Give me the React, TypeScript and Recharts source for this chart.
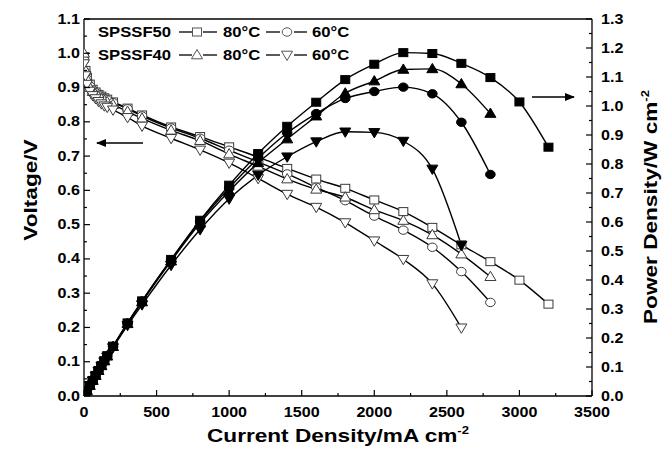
import React from 'react';
import { ComposedChart, Line, XAxis, YAxis, ReferenceLine } from 'recharts';

// ---- Data ----
const currentSPSSF50_80 = [0, 10, 20, 40, 60, 80, 100, 120, 140, 160, 200, 300, 400, 600, 800, 1000, 1200, 1400, 1600, 1800, 2000, 2200, 2400, 2600, 2800, 3000, 3200];
const voltageSPSSF50_80 = [0.99, 0.95, 0.93, 0.91, 0.895, 0.887, 0.88, 0.875, 0.87, 0.866, 0.858, 0.84, 0.82, 0.785, 0.757, 0.727, 0.697, 0.664, 0.633, 0.606, 0.572, 0.538, 0.492, 0.441, 0.392, 0.338, 0.268];
const powerSPSSF50_80 = [0, 0.0095, 0.0186, 0.0364, 0.0537, 0.071, 0.088, 0.105, 0.122, 0.139, 0.172, 0.252, 0.328, 0.471, 0.606, 0.727, 0.836, 0.93, 1.013, 1.091, 1.144, 1.184, 1.181, 1.147, 1.098, 1.014, 0.858];

const currentSPSSF50_60 = [0, 10, 20, 40, 60, 80, 100, 120, 140, 160, 200, 300, 400, 600, 800, 1000, 1200, 1400, 1600, 1800, 2000, 2200, 2400, 2600, 2800];
const voltageSPSSF50_60 = [0.98, 0.945, 0.925, 0.905, 0.893, 0.885, 0.878, 0.872, 0.868, 0.864, 0.856, 0.838, 0.817, 0.782, 0.752, 0.717, 0.683, 0.648, 0.609, 0.57, 0.525, 0.484, 0.434, 0.363, 0.273];
const powerSPSSF50_60 = [0, 0.0095, 0.0185, 0.0362, 0.0536, 0.0708, 0.0878, 0.1046, 0.1215, 0.1382, 0.171, 0.251, 0.327, 0.469, 0.602, 0.717, 0.82, 0.907, 0.974, 1.026, 1.05, 1.065, 1.042, 0.944, 0.764];

const currentSPSSF40_80 = [0, 10, 20, 40, 60, 80, 100, 120, 140, 160, 200, 300, 400, 600, 800, 1000, 1200, 1400, 1600, 1800, 2000, 2200, 2400, 2600, 2800];
const voltageSPSSF40_80 = [1.0, 0.95, 0.925, 0.9, 0.888, 0.88, 0.873, 0.867, 0.862, 0.858, 0.85, 0.83, 0.81, 0.775, 0.745, 0.706, 0.67, 0.633, 0.603, 0.58, 0.543, 0.512, 0.47, 0.414, 0.348];
const powerSPSSF40_80 = [0, 0.0095, 0.0185, 0.036, 0.0533, 0.0704, 0.0873, 0.104, 0.1207, 0.1373, 0.17, 0.249, 0.324, 0.465, 0.596, 0.706, 0.804, 0.886, 0.965, 1.044, 1.086, 1.126, 1.128, 1.076, 0.974];

const currentSPSSF40_60 = [0, 10, 20, 40, 60, 80, 100, 120, 140, 160, 200, 300, 400, 600, 800, 1000, 1200, 1400, 1600, 1800, 2000, 2200, 2400, 2600];
const voltageSPSSF40_60 = [0.97, 0.935, 0.91, 0.89, 0.877, 0.868, 0.86, 0.853, 0.847, 0.843, 0.835, 0.813, 0.788, 0.752, 0.718, 0.68, 0.635, 0.589, 0.551, 0.506, 0.453, 0.399, 0.328, 0.199];
const powerSPSSF40_60 = [0, 0.0094, 0.018, 0.0356, 0.0526, 0.0694, 0.086, 0.102, 0.1186, 0.135, 0.167, 0.244, 0.315, 0.451, 0.574, 0.68, 0.762, 0.825, 0.877, 0.911, 0.909, 0.879, 0.783, 0.52];

const xTicks = [0, 250, 500, 750, 1000, 1250, 1500, 1750, 2000, 2250, 2500, 2750, 3000, 3250, 3500];
const leftTicks = [0, 0.05, 0.1, 0.15, 0.2, 0.25, 0.3, 0.35, 0.4, 0.45, 0.5, 0.55, 0.6, 0.65, 0.7, 0.75, 0.8, 0.85, 0.9, 0.95, 1.0, 1.05, 1.1];
const rightTicks = [0, 0.05, 0.1, 0.15, 0.2, 0.25, 0.3, 0.35, 0.4, 0.45, 0.5, 0.55, 0.6, 0.65, 0.7, 0.75, 0.8, 0.85, 0.9, 0.95, 1.0, 1.05, 1.1, 1.15, 1.2, 1.25, 1.3];

const legendRows = ['SPSSF50', 'SPSSF40'];
const legendTemps = ['80°C', '60°C'];

const zip = (xs: number[], ys: number[]) => xs.map((x, i) => ({ x, y: ys[i] }));

const FONT = '"Liberation Sans", Arial, sans-serif';
const MARK_STROKE = '#3a3a3a';

type Kind = 'square' | 'circle' | 'up' | 'down';

function marker(kind: Kind, cx: number, cy: number, filled: boolean, key?: any, color?: string) {
  const fill = filled ? '#000' : '#fff';
  const stroke = color || (filled ? '#000' : MARK_STROKE);
  const sw = 1;
  if (kind === 'square') {
    return <rect key={key} x={cx - 4.5} y={cy - 4} width={9} height={8} fill={fill} stroke={stroke} strokeWidth={sw} />;
  }
  if (kind === 'circle') {
    return <ellipse key={key} cx={cx} cy={cy} rx={4.8} ry={4.2} fill={fill} stroke={stroke} strokeWidth={sw} />;
  }
  if (kind === 'up') {
    return <polygon key={key} points={`${cx},${cy - 5.5} ${cx - 5.5},${cy + 3.8} ${cx + 5.5},${cy + 3.8}`} fill={fill} stroke={stroke} strokeWidth={sw} />;
  }
  return <polygon key={key} points={`${cx},${cy + 5.5} ${cx - 5.5},${cy - 3.8} ${cx + 5.5},${cy - 3.8}`} fill={fill} stroke={stroke} strokeWidth={sw} />;
}

const dotFn = (kind: Kind, filled: boolean) => (props: any) => {
  const { cx, cy, index } = props;
  if (cx == null || cy == null) return <g key={index} />;
  return marker(kind, cx, cy, filled, index);
};

const Txt = ({ x, y, anchor, size, children, rotate, sx = 1.19 }: any) => (
  <text
    transform={`translate(${x},${y})${rotate ? ` rotate(${rotate})` : ''} scale(${sx},1)`}
    textAnchor={anchor || 'start'}
    fontFamily={FONT}
    fontWeight="bold"
    fontSize={size}
    fill="#000"
  >
    {children}
  </text>
);

const TICK_SIZE = 14;
const TICK_SX = 1.15;

const XTick = (props: any) => {
  const { x, y, payload } = props;
  const v = payload.value;
  const major = v % 500 === 0;
  return (
    <g>
      <line x1={x} x2={x} y1={y} y2={y - (major ? 6 : 3)} stroke="#000" strokeWidth={1.2} />
      {major && <Txt x={x} y={y + 21} anchor="middle" size={TICK_SIZE} sx={TICK_SX}>{v}</Txt>}
    </g>
  );
};

const LeftTick = (props: any) => {
  const { x, y, payload } = props;
  const v = payload.value;
  const major = Math.round(v * 100) % 10 === 0;
  return (
    <g>
      <line x1={x} x2={x + (major ? 6 : 3)} y1={y} y2={y} stroke="#000" strokeWidth={1.2} />
      {major && <Txt x={x - 4} y={y + 4.5} anchor="end" size={TICK_SIZE} sx={TICK_SX}>{v.toFixed(1)}</Txt>}
    </g>
  );
};

const RightTick = (props: any) => {
  const { x, y, payload } = props;
  const v = payload.value;
  const major = Math.round(v * 100) % 10 === 0;
  return (
    <g>
      <line x1={x} x2={x - (major ? 6 : 3)} y1={y} y2={y} stroke="#000" strokeWidth={1.2} />
      {major && <Txt x={x + 9} y={y + 4.5} anchor="start" size={TICK_SIZE} sx={TICK_SX}>{v.toFixed(1)}</Txt>}
    </g>
  );
};

const series = [
  { name: 'SPSSF50 80', kind: 'square' as Kind, xs: currentSPSSF50_80, v: voltageSPSSF50_80, p: powerSPSSF50_80 },
  { name: 'SPSSF50 60', kind: 'circle' as Kind, xs: currentSPSSF50_60, v: voltageSPSSF50_60, p: powerSPSSF50_60 },
  { name: 'SPSSF40 80', kind: 'up' as Kind, xs: currentSPSSF40_80, v: voltageSPSSF40_80, p: powerSPSSF40_80 },
  { name: 'SPSSF40 60', kind: 'down' as Kind, xs: currentSPSSF40_60, v: voltageSPSSF40_60, p: powerSPSSF40_60 },
];

const legendKinds: Kind[][] = [['square', 'circle'], ['up', 'down']];

export default function App() {
  return (
    <div style={{ position: 'absolute', left: 0, top: 0, width: 670, height: 454, background: '#fff' }}>
      <ComposedChart width={670} height={454} margin={{ top: 19, right: 0, bottom: 0, left: 0 }}>
        <XAxis
          type="number"
          dataKey="x"
          domain={[0, 3500]}
          ticks={xTicks}
          interval={0}
          allowDataOverflow
          height={58}
          tickSize={0}
          tickMargin={0}
          tickLine={false}
          axisLine={{ stroke: '#000', strokeWidth: 1.3 }}
          tick={<XTick />}
        />
        <YAxis
          yAxisId="left"
          type="number"
          domain={[0, 1.1]}
          ticks={leftTicks}
          interval={0}
          allowDataOverflow
          width={84}
          tickSize={0}
          tickMargin={0}
          tickLine={false}
          axisLine={{ stroke: '#000', strokeWidth: 1.3 }}
          tick={<LeftTick />}
        />
        <YAxis
          yAxisId="right"
          orientation="right"
          type="number"
          domain={[0, 1.3]}
          ticks={rightTicks}
          interval={0}
          allowDataOverflow
          width={78}
          tickSize={0}
          tickMargin={0}
          tickLine={false}
          axisLine={{ stroke: '#000', strokeWidth: 1.3 }}
          tick={<RightTick />}
        />
        <ReferenceLine yAxisId="left" y={1.1} stroke="#000" strokeWidth={1.3} />
        {series.map((s) => (
          <Line
            key={s.name + '-V'}
            yAxisId="left"
            data={zip(s.xs, s.v)}
            dataKey="y"
            type="monotone"
            stroke="#000"
            strokeWidth={1.4}
            dot={dotFn(s.kind, false)}
            activeDot={false}
            isAnimationActive={false}
          />
        ))}
        {series.map((s) => (
          <Line
            key={s.name + '-P'}
            yAxisId="right"
            data={zip(s.xs, s.p)}
            dataKey="y"
            type="monotone"
            stroke="#000"
            strokeWidth={1.4}
            dot={dotFn(s.kind, true)}
            activeDot={false}
            isAnimationActive={false}
          />
        ))}
      </ComposedChart>
      <svg width={670} height={454} style={{ position: 'absolute', left: 0, top: 0, pointerEvents: 'none' }}>
        <defs>
          <marker id="ah" markerWidth="10" markerHeight="8" refX="9" refY="4" orient="auto" markerUnits="userSpaceOnUse">
            <path d="M0,0 L10,4 L0,8 Z" fill="#000" />
          </marker>
        </defs>
        {legendRows.map((row, r) => {
          const cy = 32 + r * 23;
          return (
            <g key={row}>
              <Txt x={98} y={cy + 5} size={14}>{row}</Txt>
              <line x1={179} x2={192} y1={cy} y2={cy} stroke="#000" strokeWidth={1.3} />
              {marker(legendKinds[r][0], 197, cy, false, 'a', '#555')}
              <line x1={203} x2={217} y1={cy} y2={cy} stroke="#000" strokeWidth={1.3} />
              <Txt x={223} y={cy + 5} size={14}>{legendTemps[0]}</Txt>
              <line x1={266} x2={280} y1={cy} y2={cy} stroke="#000" strokeWidth={1.3} />
              {marker(legendKinds[r][1], 287, cy, false, 'b', '#555')}
              <line x1={294} x2={307} y1={cy} y2={cy} stroke="#000" strokeWidth={1.3} />
              <Txt x={312} y={cy + 5} size={14}>{legendTemps[1]}</Txt>
            </g>
          );
        })}
        <line x1={143} x2={97} y1={143} y2={143} stroke="#000" strokeWidth={1.3} markerEnd="url(#ah)" />
        <line x1={532} x2={574} y1={97} y2={97} stroke="#000" strokeWidth={1.3} markerEnd="url(#ah)" />
        <Txt x={338} y={442} anchor="middle" size={19}>
          Current Density/mA cm<tspan dy={-8} fontSize={11}>-2</tspan>
        </Txt>
        <Txt x={37} y={190} anchor="middle" size={19} rotate={-90}>
          Voltage/V
        </Txt>
        <Txt x={657} y={207} anchor="middle" size={19} rotate={-90}>
          Power Density/W cm<tspan dy={-8} fontSize={11}>-2</tspan>
        </Txt>
      </svg>
    </div>
  );
}
